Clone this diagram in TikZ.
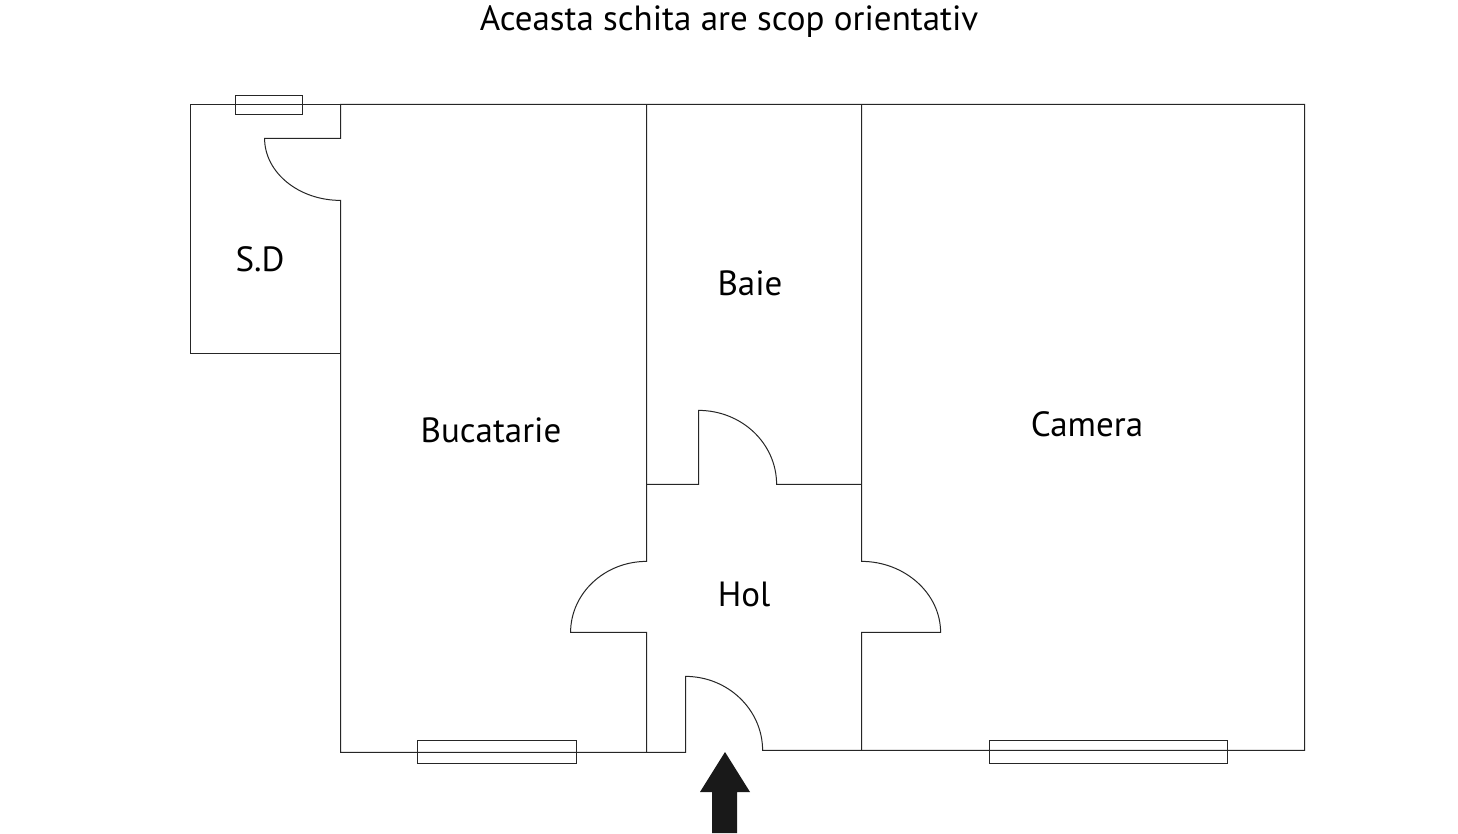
\documentclass[tikz,border=0pt]{standalone}
\usepackage{fontspec}
\setmainfont{PT Sans}
\tikzset{
  wall/.style={draw=black!85,line width=0.5pt,line join=miter},
  win/.style={draw=black!85,line width=0.5pt},
  lbl/.style={inner sep=0pt,font=\fontsize{17.5pt}{20pt}\selectfont,text=black,anchor=base},
}
\begin{document}
\begin{tikzpicture}[x=0.5pt,y=-0.5pt]
\useasboundingbox (0,0) rectangle (1458,834);
\fill[white] (0,0) rectangle (1458,834);
\begin{scope}[shift={(-0.4,0.4)}]
% outer walls and S.D
\draw[wall] (341,104) -- (190.4,104) -- (190.4,353.5) -- (341,353.5);
\draw[wall] (341,104) -- (1305,104) -- (1305,750) -- (763,750)
  .. controls (763,709) and (728,676) .. (686,676) -- (686,752) -- (341,752) -- (341,200)
  .. controls (299,200) and (265,172) .. (265,138) -- (341,138) -- cycle;
% hall walls
\draw[wall] (647,104) -- (647,561) .. controls (605,561) and (571,593) .. (571,632) -- (647,632) -- (647,752);
\draw[wall] (862,104) -- (862,561) .. controls (905,561) and (941,593) .. (941,632) -- (862,632) -- (862,750);
\draw[wall] (647,484) -- (699,484) -- (699,410) .. controls (742,410) and (777,443) .. (777,484) -- (862,484);
% windows
\draw[win] (236,95) rectangle (303,114);
\draw[win] (418.3,740) rectangle (577,763);
\draw[win] (990,740) rectangle (1228,763);
\end{scope}
% entry arrow
\fill[black!90] (725,752) -- (750,792) -- (737,792) -- (737,833) -- (712,833) -- (712,792) -- (700,792) -- cycle;
% labels
\node[lbl] (title) at (729,31) {Aceasta schita are scop orientativ};
\node[lbl] (sd) at (260,272) {S.D};
\node[lbl] (baie) at (750,296) {Baie};
\node[lbl] (buc) at (491,443) {Bucatarie};
\node[lbl] (cam) at (1087,437) {Camera};
\node[lbl] (hol) at (744,606) {Hol};
\end{tikzpicture}
\end{document}
